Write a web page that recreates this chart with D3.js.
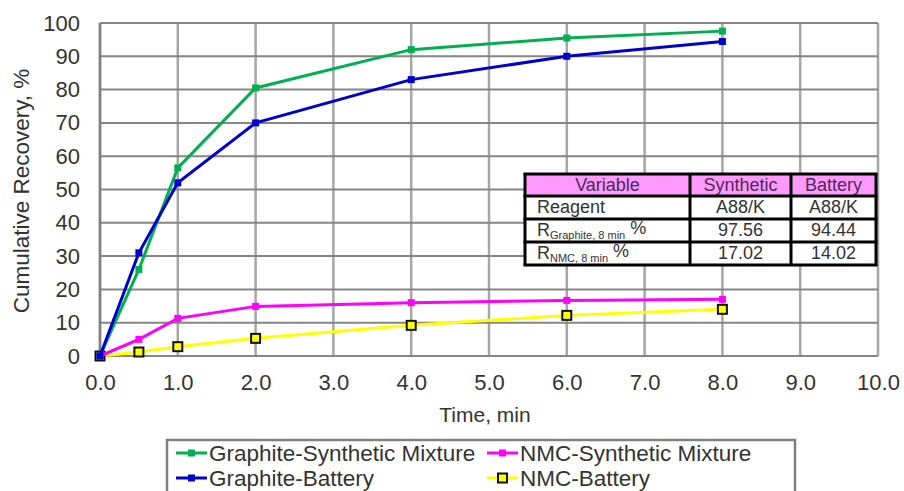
<!DOCTYPE html>
<html><head><meta charset="utf-8">
<script src="https://cdn.jsdelivr.net/npm/d3@7"></script>
<style>body{margin:0;background:#fff}svg{display:block;font-family:"Liberation Sans",Arial,sans-serif}</style>
</head><body><svg id="c" width="904" height="491"></svg>
<script>
const times = [0, 0.5, 1, 2, 4, 6, 8];
const graphiteSynthetic = [0, 26, 56.5, 80.5, 92, 95.5, 97.56];
const graphiteBattery = [0, 31, 52, 70, 83, 90, 94.44];
const nmcSynthetic = [0, 5, 11.3, 14.9, 16, 16.7, 17.02];
const nmcBattery = [0, 1.2, 2.8, 5.3, 9.2, 12.2, 14.02];
const seriesNames = ["Graphite-Synthetic Mixture", "Graphite-Battery", "NMC-Synthetic Mixture", "NMC-Battery"];
const xTicks = [0,1,2,3,4,5,6,7,8,9,10];
const yTicks = [0,10,20,30,40,50,60,70,80,90,100];
const tableHeader = ["Variable", "Synthetic", "Battery"];
const tableRows = [
  [["Reagent", ""], "A88/K", "A88/K"],
  [["R", "Graphite, 8 min"], "97.56", "94.44"],
  [["R", "NMC, 8 min"], "17.02", "14.02"]
];

const svg = d3.select("#c");
const x = d3.scaleLinear().domain([0, 10]).range([100, 878]);
const y = d3.scaleLinear().domain([0, 100]).range([356, 23]);
const txt = "#333";
const ff = '"Liberation Sans",Arial,sans-serif';

// grid
svg.append("g").selectAll("line").data(xTicks).join("line")
  .attr("x1", d => x(d)).attr("x2", d => x(d)).attr("y1", y(0)).attr("y2", y(100))
  .attr("stroke", "#a6a6a6").attr("stroke-width", 2.5);
svg.append("g").selectAll("line").data(yTicks).join("line")
  .attr("x1", x(0)).attr("x2", x(10)).attr("y1", d => y(d)).attr("y2", d => y(d))
  .attr("stroke", "#858585").attr("stroke-width", 2);
svg.append("line").attr("x1", x(0)).attr("x2", x(0)).attr("y1", y(0)).attr("y2", y(100))
  .attr("stroke", "#808080").attr("stroke-width", 2.5);

// axes
const xAxis = svg.append("g").attr("transform", `translate(0,${y(0)})`)
  .call(d3.axisBottom(x).tickValues(xTicks).tickFormat(d3.format(".1f")).tickSize(0).tickPadding(18));
const yAxis = svg.append("g").attr("transform", `translate(${x(0)},0)`)
  .call(d3.axisLeft(y).tickValues(yTicks).tickSize(0).tickPadding(20));
[xAxis, yAxis].forEach(a => {
  a.select(".domain").remove();
  a.selectAll("text").attr("font-size", 22).attr("fill", txt).attr("font-family", ff);
});

svg.append("text").attr("x", 485).attr("y", 422).attr("text-anchor", "middle")
  .attr("font-size", 21).attr("fill", txt).text("Time, min");
svg.append("text").attr("transform", "translate(29,191) rotate(-90)").attr("text-anchor", "middle")
  .attr("font-size", 22.5).attr("fill", txt).text("Cumulative Recovery, %");

// series
const series = [
  {name: seriesNames[0], vals: graphiteSynthetic, color: "#00b050", msize: 7, mstroke: null},
  {name: seriesNames[1], vals: graphiteBattery, color: "#0000cc", msize: 7, mstroke: null},
  {name: seriesNames[2], vals: nmcSynthetic, color: "#ff00ff", msize: 7, mstroke: null},
  {name: seriesNames[3], vals: nmcBattery, color: "#ffff00", msize: 9, mstroke: "#111"}
];
const line = d3.line().x(d => x(d[0])).y(d => y(d[1]));
[3, 2, 0, 1].forEach(i => {
  const s = series[i];
  const pts = times.map((t, j) => [t, s.vals[j]]);
  svg.append("path").datum(pts).attr("d", line).attr("fill", "none")
    .attr("stroke", s.color).attr("stroke-width", 3);
  svg.append("g").selectAll("rect").data(pts).join("rect")
    .attr("x", d => x(d[0]) - s.msize / 2).attr("y", d => y(d[1]) - s.msize / 2)
    .attr("width", s.msize).attr("height", s.msize)
    .attr("fill", s.color)
    .attr("stroke", s.mstroke || "none").attr("stroke-width", s.mstroke ? 2 : 0);
});

// table
const colX = [525, 690, 791, 876];
const rowY = [174, 196, 219, 242, 265];
const tg = svg.append("g");
tg.append("rect").attr("x", colX[0]).attr("y", rowY[0]).attr("width", colX[3] - colX[0]).attr("height", rowY[4] - rowY[0]).attr("fill", "#fff");
tg.append("rect").attr("x", colX[0]).attr("y", rowY[0]).attr("width", colX[3] - colX[0]).attr("height", rowY[1] - rowY[0]).attr("fill", "#ff99ff");
tableHeader.forEach((h, i) => {
  tg.append("text").attr("x", (colX[i] + colX[i + 1]) / 2).attr("y", (rowY[0] + rowY[1]) / 2 + 6)
    .attr("text-anchor", "middle").attr("font-size", 18).attr("fill", "#4a2a5a").text(h);
});
tableRows.forEach((r, ri) => {
  const cy = (rowY[ri + 1] + rowY[ri + 2]) / 2 + 5.5;
  const t = tg.append("text").attr("x", colX[0] + 12).attr("y", cy).attr("font-size", 18).attr("fill", txt);
  t.append("tspan").text(r[0][0]);
  if (r[0][1]) {
    t.append("tspan").attr("font-size", 11).attr("dy", 3).text(r[0][1]);
    t.append("tspan").attr("font-size", 18).attr("dy", -5).text(" %");
  }
  [r[1], r[2]].forEach((v, ci) => {
    tg.append("text").attr("x", (colX[ci + 1] + colX[ci + 2]) / 2).attr("y", cy)
      .attr("text-anchor", "middle").attr("font-size", 18).attr("fill", txt).text(v);
  });
});
rowY.forEach(yy => tg.append("line").attr("x1", colX[0] - 1.5).attr("x2", colX[3] + 1.5).attr("y1", yy).attr("y2", yy).attr("stroke", "#000").attr("stroke-width", 3));
colX.forEach(xx => tg.append("line").attr("x1", xx).attr("x2", xx).attr("y1", rowY[0]).attr("y2", rowY[4]).attr("stroke", "#000").attr("stroke-width", 3));

// legend
const lg = svg.append("g");
lg.append("rect").attr("x", 167).attr("y", 440).attr("width", 628).attr("height", 70)
  .attr("fill", "#fff").attr("stroke", "#808080").attr("stroke-width", 2.5);
const legPos = [[176, 453], [176, 478], [487, 453], [487, 478]];
series.forEach((s, i) => {
  const [lx, ly] = legPos[i];
  lg.append("line").attr("x1", lx).attr("x2", lx + 31).attr("y1", ly).attr("y2", ly)
    .attr("stroke", s.color).attr("stroke-width", 3);
  lg.append("rect").attr("x", lx + 15.5 - s.msize / 2).attr("y", ly - s.msize / 2)
    .attr("width", s.msize).attr("height", s.msize).attr("fill", s.color)
    .attr("stroke", s.mstroke || "none").attr("stroke-width", s.mstroke ? 2 : 0);
  lg.append("text").attr("x", lx + 33).attr("y", ly + 8).attr("font-size", 22.5).attr("fill", txt).text(s.name);
});
</script></body></html>
